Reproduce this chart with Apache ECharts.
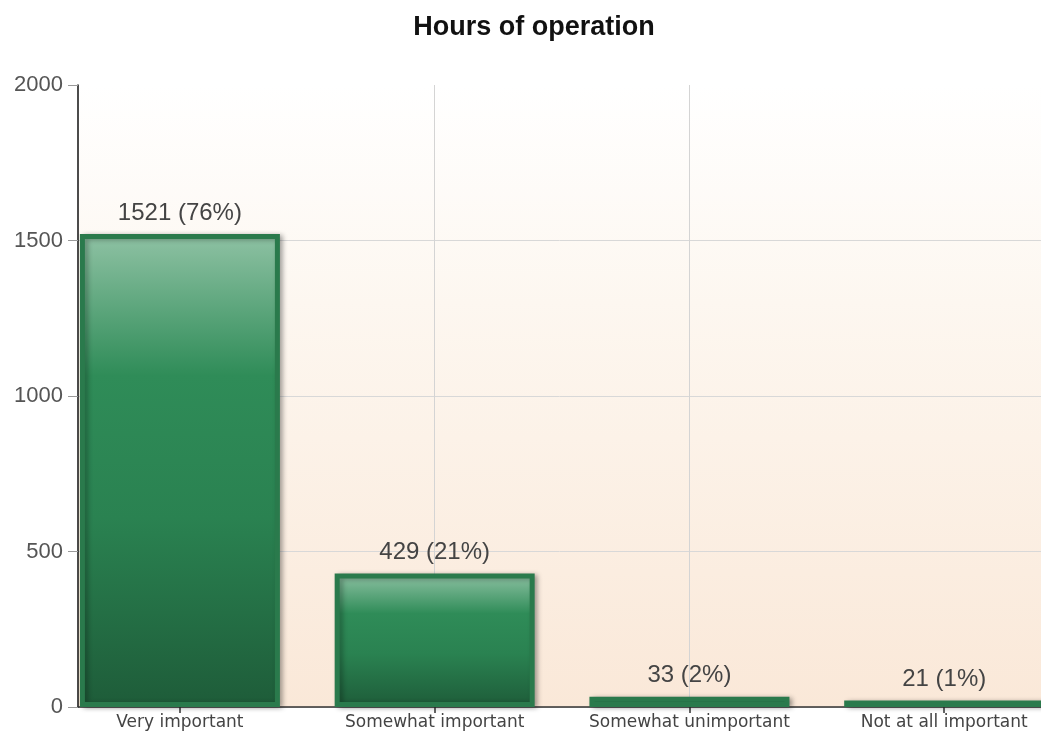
<!DOCTYPE html>
<html>
<head>
<meta charset="utf-8">
<script src="https://cdn.jsdelivr.net/npm/echarts@6/dist/echarts.min.js"></script>
<style>
html,body{margin:0;padding:0;background:#fff;}
#chart{width:1041px;height:740px;}
</style>
</head>
<body>
<div id="chart"></div>
<script>
const title = 'Hours of operation';
const categories = ['Very important', 'Somewhat important', 'Somewhat unimportant', 'Not at all important'];
const counts = [1521, 429, 33, 21];
const percents = [76, 21, 2, 1];
const yTicks = [0, 500, 1000, 1500, 2000];

const seriesData = counts.map((v, i) => [i, v]);
const chart = echarts.init(document.getElementById('chart'));
chart.setOption({
  animation: false,
  backgroundColor: '#ffffff',
  title: {
    text: title,
    left: 529,
    textAlign: 'center',
    top: 9,
    textStyle: { fontFamily: 'Liberation Sans, Arial, sans-serif', fontSize: 27, fontWeight: 'bold', color: '#111' }
  },
  grid: {
    left: 78, right: 0, top: 85, bottom: 33,
    show: true,
    borderWidth: 0,
    backgroundColor: {
      type: 'linear', x: 0, y: 0, x2: 0, y2: 1,
      colorStops: [
        { offset: 0, color: '#ffffff' },
        { offset: 0.35, color: '#fdf7f0' },
        { offset: 1, color: '#fae8d8' }
      ]
    }
  },
  xAxis: {
    type: 'value',
    min: -0.4,
    max: 3.38,
    axisLine: { show: true, onZero: false, lineStyle: { color: '#333', width: 1.5 } },
    axisTick: { show: true, length: 6, customValues: [0, 1, 2, 3], lineStyle: { color: '#333', width: 1.5 } },
    axisLabel: {
      customValues: [0, 1, 2, 3],
      formatter: v => categories[Math.round(v)] || '',
      fontFamily: 'DejaVu Sans, sans-serif', fontSize: 17, color: '#444', margin: 7
    },
    splitLine: { show: true, showMinLine: false, showMaxLine: false, lineStyle: { color: '#d4d4d4', width: 1 } }
  },
  yAxis: {
    type: 'value',
    min: 0, max: 2000, interval: 500,
    axisLine: { show: true, onZero: false, lineStyle: { color: '#111', width: 1.5 } },
    axisTick: { show: true, length: 10, lineStyle: { color: '#999' } },
    axisLabel: { fontFamily: 'Liberation Sans, Arial, sans-serif', fontSize: 22, color: '#555', margin: 15,
      formatter: v => yTicks.includes(v) ? String(v) : '' },
    splitLine: { show: true, showMaxLine: false, lineStyle: { color: '#d8d8d8', width: 1 } }
  },
  series: [{
    type: 'bar',
    data: seriesData,
    barWidth: 200,
    clip: false,
    itemStyle: {
      color: {
        type: 'linear', x: 0, y: 0, x2: 0, y2: 1,
        colorStops: [
          { offset: 0, color: '#8fc2a4' },
          { offset: 0.3, color: '#2f8c58' },
          { offset: 0.6, color: '#2a8251' },
          { offset: 1, color: '#1e5c39' }
        ]
      },
      borderColor: '#2a7a4c',
      borderWidth: 5,
      shadowColor: 'rgba(0,0,0,0.3)',
      shadowBlur: 5,
      shadowOffsetX: 3,
      shadowOffsetY: 1
    },
    label: {
      show: true,
      position: 'top',
      distance: 9,
      fontFamily: 'Liberation Sans, Arial, sans-serif',
      fontSize: 24,
      color: '#444',
      formatter: p => counts[p.dataIndex] + ' (' + percents[p.dataIndex] + '%)'
    }
  }]
});
</script>
</body>
</html>
